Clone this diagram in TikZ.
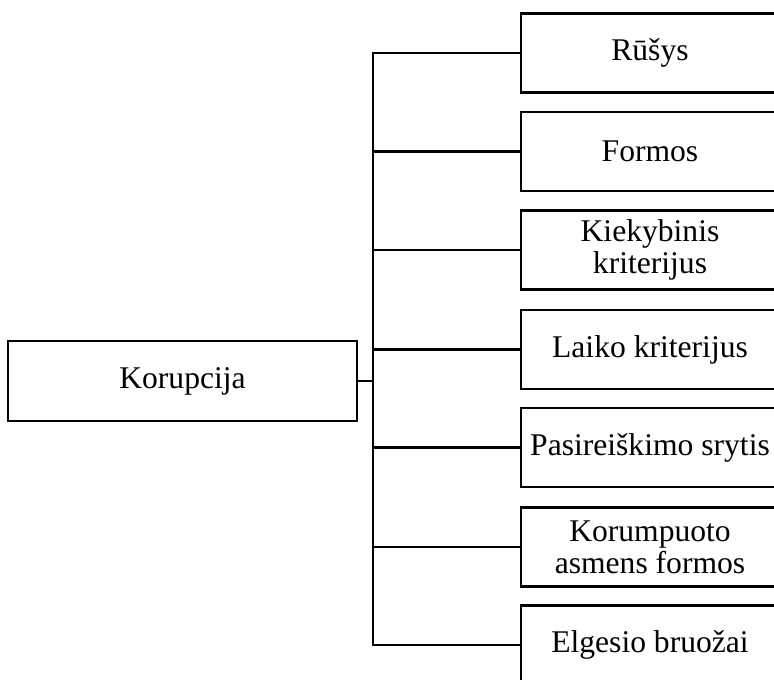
\documentclass[tikz,border=0pt]{standalone}
\usepackage{fontspec}
\setmainfont{Liberation Serif}
\usepackage{tikz}
\usetikzlibrary{shapes}
\usetikzlibrary{positioning}
\usetikzlibrary{calc}
\tikzstyle{saknis}=[
        rectangle,
        draw,
        line width=2.2pt,
        minimum width=349pt,
        minimum height=80pt,
        inner sep=0pt,
        font=\fontsize{31.6}{32}\selectfont
]
\tikzstyle{saka}=[rectangle,draw,line width=2.2pt,minimum width=258pt,minimum height=79pt,inner sep=2pt,align=center,font=\fontsize{31.6}{32}\selectfont]
\tikzstyle{jungtis}=[-,line width=2.2pt]

\begin{document}
\begin{tikzpicture}[x=1pt,y=-1pt]
\useasboundingbox (0,0) rectangle (774,680);
\node[saknis] (korupcija) at (182.5,381) {Korupcija};
\node[saka] (rusys) at (650,53) {Rūšys};
\node[saka] (formos) at (650,151.5) {Formos};
\node[saka] (kiekybinis) at (650,250) {Kiekybinis\\kriterijus};
\node[saka] (laiko) at (650,349.5) {Laiko kriterijus};
\node[saka] (srytis) at (650,447.5) {Pasireiškimo srytis};
\node[saka] (asmens) at (650,547) {Korumpuoto\\asmens formos};
\node[saka] (elgesio) at (650,645) {Elgesio bruožai};
%jungtys
\draw[jungtis] (korupcija.east) -- ++(15,0) |- (rusys.west);
\draw[jungtis] (korupcija.east) -- ++(15,0) |- (formos.west);
\draw[jungtis] (korupcija.east) -- ++(15,0) |- (kiekybinis.west);
\draw[jungtis] (korupcija.east) -- ++(15,0) |- (laiko.west);
\draw[jungtis] (korupcija.east) -- ++(15,0) |- (srytis.west);
\draw[jungtis] (korupcija.east) -- ++(15,0) |- (asmens.west);
\draw[jungtis] (korupcija.east) -- ++(15,0) |- (elgesio.west);
\end{tikzpicture}
\end{document}
